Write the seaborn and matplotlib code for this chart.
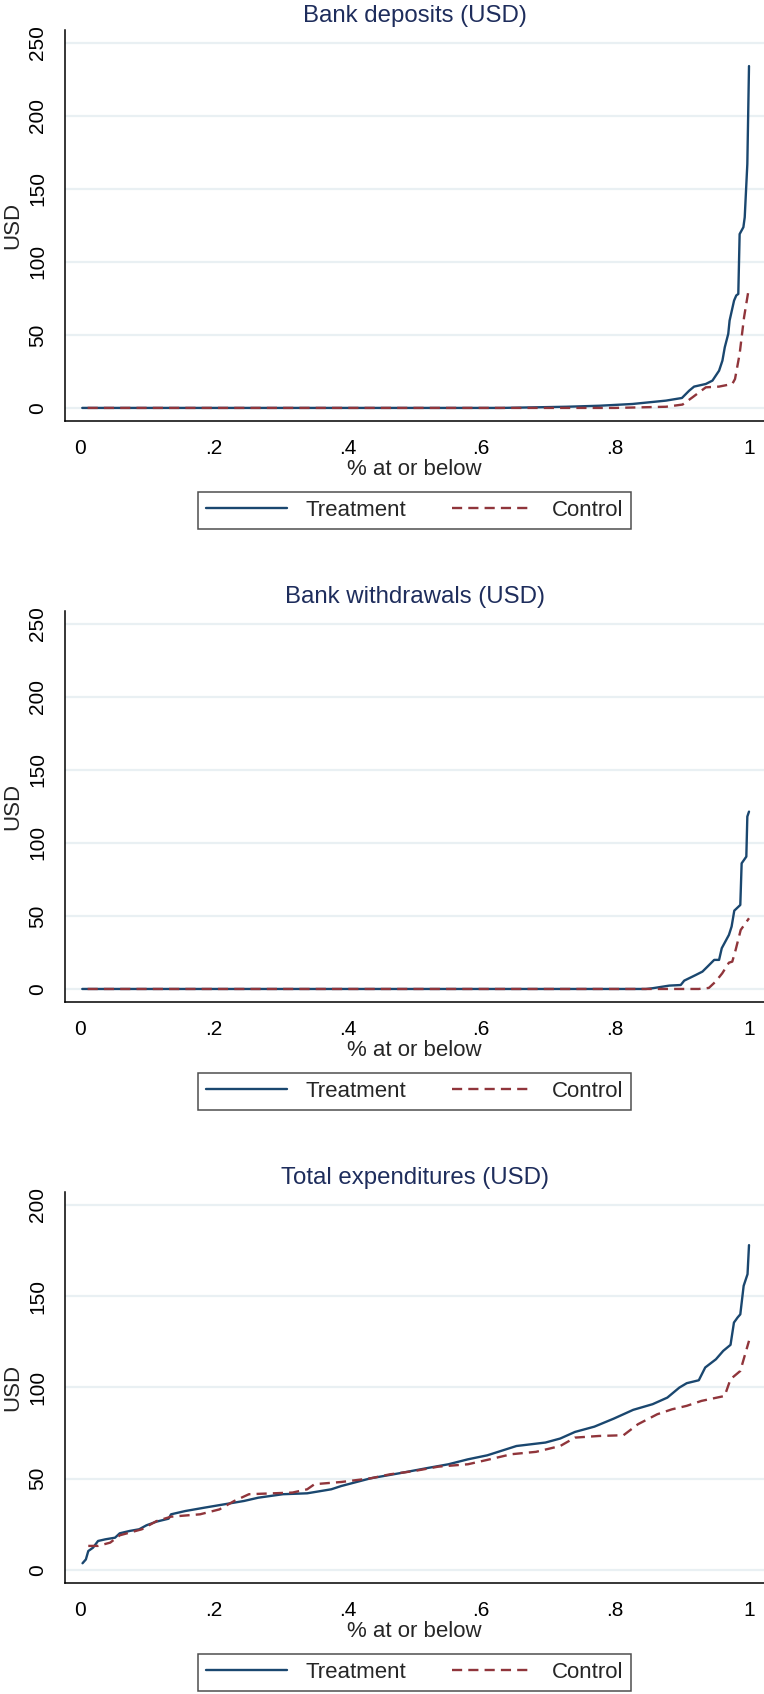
import numpy as np
import pandas as pd
import matplotlib
matplotlib.use('Agg')
import matplotlib.pyplot as plt
import seaborn as sns

# ---- data ----
titles = ['Bank deposits (USD)', 'Bank withdrawals (USD)', 'Total expenditures (USD)']
xtick_vals = [0, 0.2, 0.4, 0.6, 0.8, 1.0]
xtick_labels = ['0', '.2', '.4', '.6', '.8', '1']
yticks_dep = [0, 50, 100, 150, 200, 250]
yticks_wd = [0, 50, 100, 150, 200, 250]
yticks_exp = [0, 50, 100, 150, 200]

dep_treat_x = [0.004, 0.63, 0.68, 0.727, 0.777, 0.826, 0.876, 0.8998, 0.9106, 0.918, 0.9355,
               0.9454, 0.9553, 0.9603, 0.9638, 0.969, 0.971, 0.9777, 0.981, 0.984, 0.986,
               0.9916, 0.9936, 0.9975, 1.0]
dep_treat_y = [0, 0, 0.4, 0.8, 1.5, 2.7, 5, 6.8, 11.8, 14.6, 16.4,
               18.7, 25.5, 32.4, 41.5, 50.7, 59.8, 73.5, 77, 78, 119,
               123.7, 130.5, 167, 234]
dep_ctrl_x = [0.012, 0.8, 0.876, 0.9007, 0.9157, 0.9256, 0.9355, 0.9553, 0.975, 0.9791,
              0.986, 0.9926, 1.0]
dep_ctrl_y = [0, 0, 0.8, 2.3, 7.3, 10.7, 14.1, 14.6, 16.4, 19.8,
              37, 62, 82.6]

wd_treat_x = [0.004, 0.846, 0.856, 0.8809, 0.898, 0.9032, 0.9206, 0.9305, 0.938, 0.948,
              0.9553, 0.9593, 0.970, 0.974, 0.978, 0.987, 0.989, 0.996, 0.9975, 1.0]
wd_treat_y = [0, 0, 0.5, 2.3, 2.7, 5.7, 9.6, 11.9, 15.3, 19.9,
              19.9, 27.9, 37, 42.7, 53.6, 57.5, 86, 90.6, 118, 121.4]
wd_ctrl_x = [0.012, 0.925, 0.940, 0.950, 0.960, 0.970, 0.975, 0.980, 0.9876, 1.0]
wd_ctrl_y = [0, 0, 0.7, 5, 10.7, 18, 18.7, 26.7, 40.4, 48.4]

exp_treat_x = [0.0044, 0.0094, 0.013, 0.020, 0.0276, 0.0385, 0.053, 0.060, 0.075, 0.089,
               0.100, 0.115, 0.133, 0.1366, 0.158, 0.1875, 0.2166, 0.2456, 0.267, 0.3038,
               0.340, 0.376, 0.391, 0.4346, 0.478, 0.522, 0.551, 0.58, 0.609, 0.6526,
               0.696, 0.718, 0.74, 0.769, 0.798, 0.827, 0.856, 0.878, 0.896, 0.907,
               0.925, 0.9346, 0.9506, 0.9615, 0.9724, 0.9775, 0.983, 0.987, 0.992, 0.9978, 1.0]
exp_treat_y = [3.7, 5.8, 10.4, 12.2, 15.9, 16.8, 17.7, 20.1, 21.4, 22.3,
               24.5, 26.5, 28.1, 30.5, 32.3, 34.2, 36, 37.8, 39.6, 41.5,
               42, 44.2, 46, 50.2, 53, 56, 57.9, 60.6, 62.8, 67.9,
               69.8, 72, 75.6, 78.5, 82.9, 87.7, 90.8, 94.4, 99.9, 102.3,
               103.9, 110.9, 115.4, 120, 123.3, 135.5, 138.3, 140, 155.6, 162, 177.9]
exp_ctrl_x = [0.013, 0.0276, 0.0458, 0.060, 0.093, 0.115, 0.1366, 0.180, 0.209, 0.231,
              0.253, 0.318, 0.340, 0.351, 0.391, 0.4346, 0.4637, 0.500, 0.536, 0.58,
              0.609, 0.645, 0.6817, 0.718, 0.740, 0.776, 0.8125, 0.834, 0.863, 0.885,
              0.907, 0.929, 0.9636, 0.9724, 0.987, 1.0]
exp_ctrl_y = [13.2, 13.2, 15, 19, 22.3, 26.8, 29.2, 30.5, 33.2, 37.8,
              41.5, 42.4, 44.2, 47, 48.2, 50.2, 52.4, 54.2, 56.6, 57.9,
              60.3, 63.4, 64.7, 67.9, 72.5, 73.4, 73.8, 79.8, 85.3, 88,
              89.9, 92.6, 95.3, 104.5, 109, 125.5]

panels = [
    (titles[0], dep_treat_x, dep_treat_y, dep_ctrl_x, dep_ctrl_y, yticks_dep),
    (titles[1], wd_treat_x, wd_treat_y, wd_ctrl_x, wd_ctrl_y, yticks_wd),
    (titles[2], exp_treat_x, exp_treat_y, exp_ctrl_x, exp_ctrl_y, yticks_exp),
]

sns.set_style('white')
plt.rcParams['font.family'] = ['Liberation Sans', 'DejaVu Sans']

navy = '#1a476f'
maroon = '#90353b'
gridc = '#e9f0f3'

fig = plt.figure(figsize=(7.64, 16.94), dpi=100)
bottoms = [0.7517, 0.4087, 0.0657]

for (title, tx, ty, cx, cy, yt), b in zip(panels, bottoms):
    ax = fig.add_axes([0.0855, b, 0.9145, 0.2306])
    df_t = pd.DataFrame({'x': tx, 'y': ty})
    df_c = pd.DataFrame({'x': cx, 'y': cy})
    sns.lineplot(data=df_t, x='x', y='y', ax=ax, color=navy, lw=1.7,
                 estimator=None, label='Treatment', zorder=3)
    sns.lineplot(data=df_c, x='x', y='y', ax=ax, color=maroon, lw=1.7,
                 linestyle=(0, (4.3, 2.6)), estimator=None, label='Control', zorder=3)

    top = yt[-1]
    pad = top * 12.7 / 365.3
    ax.set_ylim(-pad, top + pad)
    ax.set_xlim(-0.0213, 1.0224)
    ax.set_yticks(yt)
    ax.set_yticklabels([str(v) for v in yt], rotation=90, va='center')
    ax.set_xticks(xtick_vals)
    ax.set_xticklabels(xtick_labels)
    for v in yt:
        ax.axhline(v, color=gridc, lw=1.6, zorder=1)

    ax.tick_params(axis='both', direction='out', length=6, width=0.9, color='#444444',
                   labelsize=15, labelcolor='black')
    ax.tick_params(axis='y', pad=7.2)
    ax.tick_params(axis='x', pad=7.2)
    for s in ['top', 'right']:
        ax.spines[s].set_visible(False)
    for s in ['left', 'bottom']:
        ax.spines[s].set_color('black')
        ax.spines[s].set_linewidth(1.1)

    ax.set_title(title, fontsize=17.3, color='#1e2d5c', pad=6)
    ax.set_xlabel('% at or below', fontsize=16, labelpad=0.5)
    ax.set_ylabel('USD', fontsize=16)
    ax.yaxis.set_label_coords(-0.0605, 0.5)

    leg = ax.legend(loc='center', bbox_to_anchor=(0.5, -0.2296), ncol=2, fontsize=16,
                    frameon=True, fancybox=False, edgecolor='#222222',
                    handlelength=3.65, handletextpad=0.83, columnspacing=2.07,
                    borderpad=0.35, borderaxespad=0)
    leg.get_frame().set_linewidth(1.1)

fig.savefig('out.png', dpi=100)
